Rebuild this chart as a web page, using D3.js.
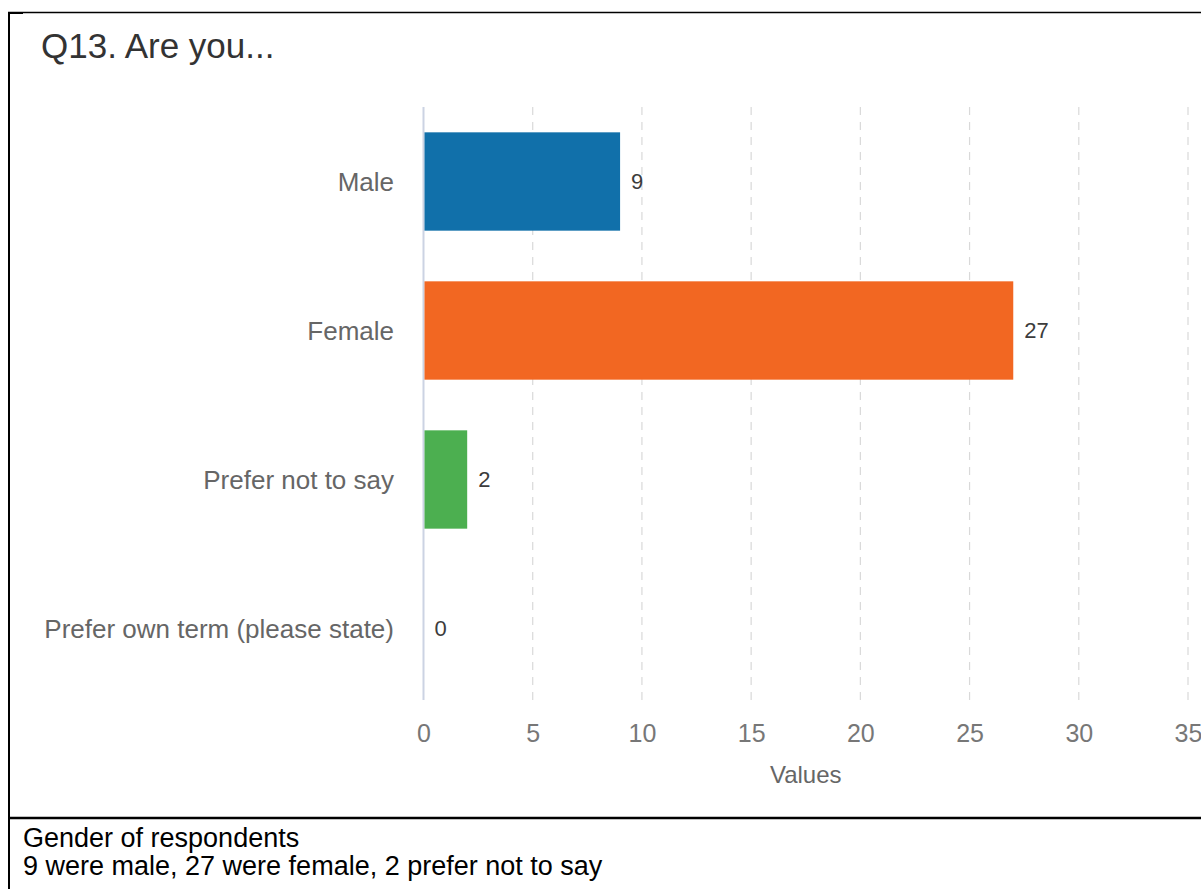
<!DOCTYPE html>
<html>
<head>
<meta charset="utf-8">
<script src="https://cdn.jsdelivr.net/npm/d3@7"></script>
<style>
  html, body { margin: 0; padding: 0; background: #fff; overflow: hidden; }
  svg { display: block; }
</style>
</head>
<body>
<svg id="chart" width="1201" height="889"></svg>
<script>
// Survey responses for Q13
const categories = ["Male", "Female", "Prefer not to say", "Prefer own term (please state)"];
const counts = [9, 27, 2, 0];
const barColors = ["#1170aa", "#f26722", "#4caf50", "#8e6bbf"];
const xTicks = [0, 5, 10, 15, 20, 25, 30, 35];
const titleText = "Q13. Are you...";
const axisTitle = "Values";
const captionLines = ["Gender of respondents", "9 were male, 27 were female, 2 prefer not to say"];

const svg = d3.select("#chart");
const chartFont = "'Liberation Sans', Arial, sans-serif";

// Table frame around the chart
svg.append("line").attr("x1", 8).attr("x2", 1201).attr("y1", 12.5).attr("y2", 12.5)
  .attr("stroke", "#000").attr("stroke-width", 1.5);
svg.append("line").attr("x1", 8).attr("x2", 23).attr("y1", 13).attr("y2", 13)
  .attr("stroke", "#000").attr("stroke-width", 2);
svg.append("line").attr("x1", 9).attr("x2", 9).attr("y1", 12).attr("y2", 889)
  .attr("stroke", "#000").attr("stroke-width", 2);
svg.append("line").attr("x1", 8).attr("x2", 1201).attr("y1", 818).attr("y2", 818)
  .attr("stroke", "#000").attr("stroke-width", 2.5);

// Title
svg.append("text").attr("x", 41).attr("y", 58)
  .attr("font-family", chartFont).attr("font-size", 35).attr("fill", "#333")
  .text(titleText);

// Scales
const x = d3.scaleLinear().domain([0, 35]).range([423.5, 1188]);
const y = d3.scaleBand().domain(categories).range([107, 703]).paddingInner(0.34).paddingOuter(0.17);

// Dashed grid lines
svg.append("g").selectAll("line").data(xTicks.filter(t => t > 0)).join("line")
  .attr("x1", d => x(d)).attr("x2", d => x(d))
  .attr("y1", 107).attr("y2", 700)
  .attr("stroke", "#d9d9d9").attr("stroke-width", 1.2).attr("stroke-dasharray", "8,7");

// Zero baseline
svg.append("line").attr("x1", x(0)).attr("x2", x(0)).attr("y1", 107).attr("y2", 700)
  .attr("stroke", "#ccd3e3").attr("stroke-width", 2);

// Bars
svg.append("g").selectAll("rect").data(categories).join("rect")
  .attr("x", x(0) + 1)
  .attr("y", d => y(d))
  .attr("width", (d, i) => Math.max(0, x(counts[i]) - x(0) - 1))
  .attr("height", y.bandwidth())
  .attr("fill", (d, i) => barColors[i]);

// Value labels
svg.append("g").selectAll("text").data(categories).join("text")
  .attr("x", (d, i) => x(counts[i]) + 11)
  .attr("y", d => y(d) + y.bandwidth() / 2)
  .attr("dy", "0.36em")
  .attr("font-family", chartFont).attr("font-size", 22).attr("fill", "#3c3c3c")
  .text((d, i) => counts[i]);

// Category labels
svg.append("g").selectAll("text").data(categories).join("text")
  .attr("x", 394)
  .attr("y", d => y(d) + y.bandwidth() / 2)
  .attr("dy", "0.36em")
  .attr("text-anchor", "end")
  .attr("font-family", chartFont).attr("font-size", 26).attr("fill", "#666")
  .text(d => d);

// X axis tick labels
const xAxis = d3.axisBottom(x).tickValues(xTicks).tickSize(0).tickPadding(0);
const gx = svg.append("g").attr("transform", "translate(0,700)").call(xAxis);
gx.select(".domain").remove();
gx.selectAll("text")
  .attr("y", 42).attr("dy", 0)
  .attr("font-family", chartFont).attr("font-size", 25).attr("fill", "#777");

// Axis title
svg.append("text").attr("x", x(17.5)).attr("y", 783)
  .attr("text-anchor", "middle")
  .attr("font-family", chartFont).attr("font-size", 24).attr("fill", "#666")
  .text(axisTitle);

// Caption
svg.append("g").selectAll("text").data(captionLines).join("text")
  .attr("x", 23).attr("y", (d, i) => 847 + i * 28)
  .attr("font-family", chartFont).attr("font-size", 27).attr("fill", "#000")
  .text(d => d);
</script>
</body>
</html>
